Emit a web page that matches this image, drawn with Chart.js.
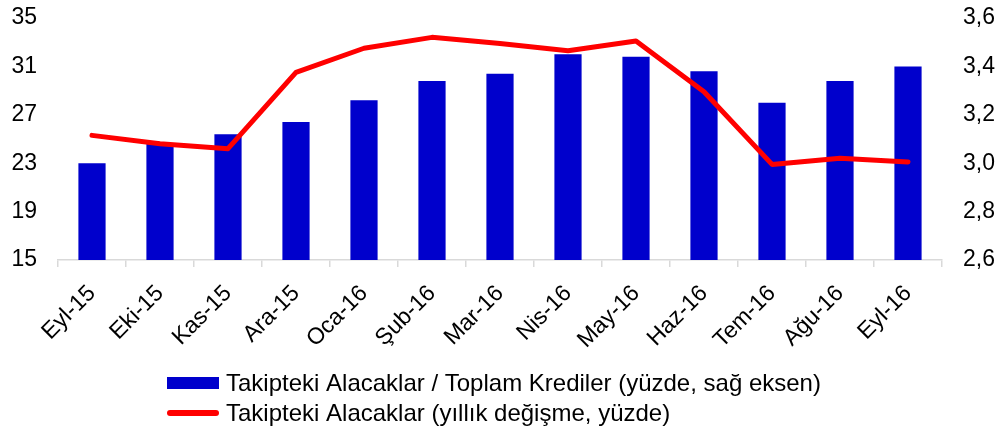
<!DOCTYPE html>
<html>
<head>
<meta charset="utf-8">
<script src="https://cdn.jsdelivr.net/npm/chart.js@4.4.1/dist/chart.umd.min.js"></script>
<style>
  html, body { margin: 0; padding: 0; background: #fff; }
  #wrap { width: 999px; height: 427px; position: relative; }
</style>
</head>
<body>
<div id="wrap"><canvas id="c" width="999" height="427"></canvas></div>
<script>
const categories = ['Eyl-15','Eki-15','Kas-15','Ara-15','Oca-16','Şub-16','Mar-16','Nis-16','May-16','Haz-16','Tem-16','Ağu-16','Eyl-16'];
const ratioValues = [3.00, 3.08, 3.12, 3.17, 3.26, 3.34, 3.37, 3.45, 3.44, 3.38, 3.25, 3.34, 3.40];
const growthValues = [25.3, 24.6, 24.2, 30.5, 32.5, 33.4, 32.9, 32.3, 33.1, 28.9, 22.9, 23.4, 23.1];
const leftTicks = [15, 19, 23, 27, 31, 35];
const rightTicks = [2.6, 2.8, 3.0, 3.2, 3.4, 3.6];
const seriesLabels = ['Takipteki Alacaklar / Toplam Krediler (yüzde, sağ eksen)', 'Takipteki Alacaklar (yıllık değişme, yüzde)'];

const barColor = '#0000CC';
const lineColor = '#FF0000';
const FONT = '"Liberation Sans", Arial, Helvetica, sans-serif';

const legendPlugin = {
  id: 'customLegend',
  afterDraw(chart) {
    const ctx = chart.ctx;
    ctx.save();
    ctx.font = '24px ' + FONT;
    ctx.textBaseline = 'alphabetic';
    ctx.textAlign = 'left';
    ctx.fillStyle = barColor;
    ctx.fillRect(167, 377, 52, 12);
    ctx.fillStyle = '#000';
    ctx.fillText(seriesLabels[0], 226, 391);
    ctx.strokeStyle = lineColor;
    ctx.lineWidth = 6;
    ctx.lineCap = 'round';
    ctx.beginPath();
    ctx.moveTo(170, 413);
    ctx.lineTo(216, 413);
    ctx.stroke();
    ctx.fillStyle = '#000';
    ctx.fillText(seriesLabels[1], 226, 421);
    ctx.restore();
  }
};

Chart.defaults.font.family = FONT;
Chart.defaults.color = '#000';

new Chart(document.getElementById('c'), {
  type: 'bar',
  data: {
    labels: categories,
    datasets: [
      {
        type: 'line',
        label: seriesLabels[1],
        data: growthValues,
        yAxisID: 'yL',
        borderColor: lineColor,
        backgroundColor: lineColor,
        borderWidth: 5,
        pointRadius: 0,
        tension: 0,
        borderJoinStyle: 'round',
        borderCapStyle: 'round',
        order: 0
      },
      {
        type: 'bar',
        label: seriesLabels[0],
        data: ratioValues,
        yAxisID: 'yR',
        backgroundColor: barColor,
        borderWidth: 0,
        categoryPercentage: 1.0,
        barPercentage: 0.4,
        order: 1
      }
    ]
  },
  options: {
    responsive: false,
    animation: false,
    layout: { padding: { top: 18, bottom: 67, left: 0, right: 0 } },
    plugins: { legend: { display: false }, tooltip: { enabled: false } },
    scales: {
      x: {
        grid: { display: true, offset: true, drawOnChartArea: false, drawTicks: true, tickLength: 7, color: '#d9d9d9', lineWidth: 1.5 },
        border: { display: true, color: '#d9d9d9', width: 1.5 },
        ticks: { font: { size: 23 }, minRotation: 45, maxRotation: 45, padding: 13, autoSkip: false },
        afterFit: s => { s.height = 100; s.paddingLeft = 0; s.paddingRight = 0; }
      },
      yL: {
        position: 'left',
        min: 15, max: 35,
        grid: { display: false, drawTicks: false },
        border: { display: false },
        afterBuildTicks: s => { s.ticks = leftTicks.map(v => ({ value: v })); },
        ticks: { font: { size: 23 }, padding: 21 },
        afterFit: s => { s.width = 58; s.paddingTop = 0; s.paddingBottom = 0; }
      },
      yR: {
        position: 'right',
        min: 2.6, max: 3.6,
        grid: { display: false, drawTicks: false },
        border: { display: false },
        afterBuildTicks: s => { s.ticks = rightTicks.map(v => ({ value: v })); },
        ticks: { font: { size: 23 }, padding: 21, callback: v => v.toFixed(1).replace('.', ',') },
        afterFit: s => { s.width = 57; s.paddingTop = 0; s.paddingBottom = 0; }
      }
    }
  },
  plugins: [legendPlugin]
});
</script>
</body>
</html>
